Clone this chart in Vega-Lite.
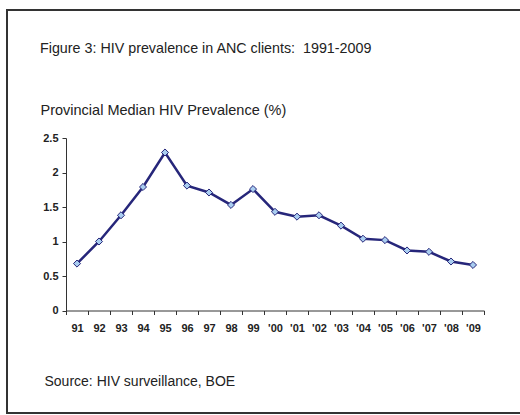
{
  "$schema": "https://vega.github.io/schema/vega-lite/v6.json",
  "width": 560,
  "height": 403,
  "padding": {"left": 7, "top": 10, "right": 0, "bottom": 2},
  "background": "white",
  "title": {
    "text": "Figure 3: HIV prevalence in ANC clients:\u00a0 1991-2009",
    "anchor": "start",
    "frame": "group",
    "orient": "top",
    "offset": -33,
    "dx": 33,
    "dy": 27,
    "baseline": "bottom",
    "font": "Liberation Sans",
    "fontSize": 14.3,
    "fontWeight": "normal",
    "color": "#222"
  },
  "data": {
    "values": [
      {"year": "91", "value": 0.68},
      {"year": "92", "value": 1.0},
      {"year": "93", "value": 1.38},
      {"year": "94", "value": 1.79},
      {"year": "95", "value": 2.29},
      {"year": "96", "value": 1.81},
      {"year": "97", "value": 1.71},
      {"year": "98", "value": 1.53},
      {"year": "99", "value": 1.76},
      {"year": "'00", "value": 1.43},
      {"year": "'01", "value": 1.36},
      {"year": "'02", "value": 1.38},
      {"year": "'03", "value": 1.23},
      {"year": "'04", "value": 1.04},
      {"year": "'05", "value": 1.02},
      {"year": "'06", "value": 0.87},
      {"year": "'07", "value": 0.85},
      {"year": "'08", "value": 0.71},
      {"year": "'09", "value": 0.66}
    ]
  },
  "encoding": {
    "x": {
      "field": "year",
      "type": "ordinal",
      "sort": null,
      "bandPosition": 0.5,
      "scale": {"type": "band", "range": [59, 477], "paddingInner": 0, "paddingOuter": 0},
      "axis": {
        "orient": "bottom",
        "offset": -102.5,
        "labelAngle": 0,
        "tickBand": "extent",
        "tickSize": 4,
        "labelPadding": 8,
        "labelFont": "Liberation Sans",
        "labelFontSize": 11,
        "labelFontWeight": "bold",
        "labelColor": "#222",
        "domainColor": "#333",
        "tickColor": "#333",
        "title": "Source: HIV surveillance, BOE",
        "titleFont": "Liberation Sans",
        "titleFontSize": 14,
        "titleFontWeight": "normal",
        "titleColor": "#222",
        "titleAnchor": "start",
        "titleAlign": "left",
        "titleBaseline": "middle",
        "titleX": 37,
        "titleY": 70.5
      }
    },
    "y": {
      "field": "value",
      "type": "quantitative",
      "scale": {"domain": [0, 2.5], "nice": false, "zero": true, "range": [300.5, 128]},
      "axis": {
        "orient": "left",
        "offset": -59,
        "values": [0, 0.5, 1, 1.5, 2, 2.5],
        "format": ".2~f",
        "grid": false,
        "tickSize": 4,
        "labelPadding": 4,
        "labelFont": "Liberation Sans",
        "labelFontSize": 11,
        "labelFontWeight": "bold",
        "labelColor": "#222",
        "domainColor": "#333",
        "tickColor": "#333",
        "title": "Provincial Median HIV Prevalence (%)",
        "titleAngle": 0,
        "titleFont": "Liberation Sans",
        "titleFontSize": 14.5,
        "titleFontWeight": "normal",
        "titleColor": "#222",
        "titleAlign": "left",
        "titleBaseline": "middle",
        "titleX": -26,
        "titleY": 100
      }
    }
  },
  "layer": [
    {"mark": {"type": "line", "color": "#26267a", "strokeWidth": 2.5}},
    {"mark": {"type": "point", "shape": "diamond", "filled": true, "fill": "#a9cdf0", "stroke": "#26267a", "strokeWidth": 1, "size": 50, "opacity": 1}}
  ],
  "config": {
    "view": {"stroke": "#333", "strokeWidth": 2}
  }
}
